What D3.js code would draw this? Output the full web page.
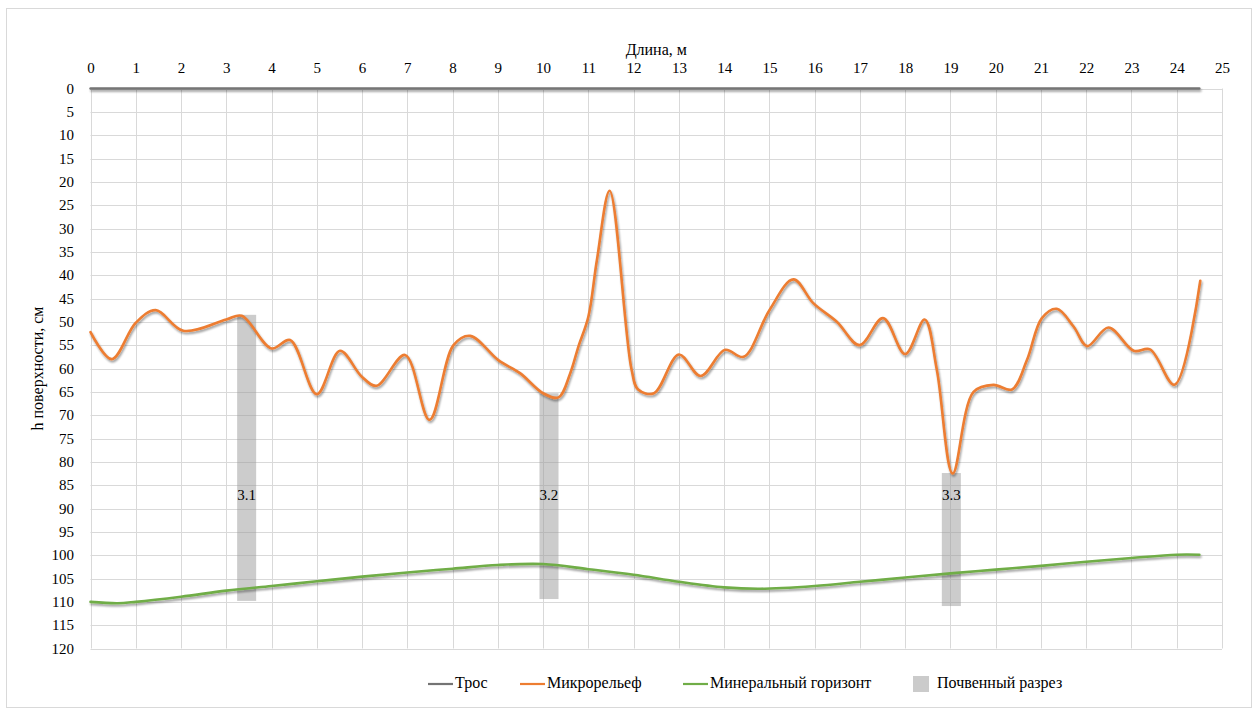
<!DOCTYPE html>
<html>
<head>
<meta charset="utf-8">
<script src="https://cdn.jsdelivr.net/npm/d3@7"></script>
<style>
  html, body { margin: 0; padding: 0; background: #fff; }
  svg { display: block; }
</style>
</head>
<body>
<svg id="chart" width="1259" height="715"></svg>
<script>
// Profile along the transect: length (m) vs depth below the cable (cm)
const xTicks = d3.range(0, 26, 1);
const yTicks = d3.range(0, 121, 5);

// Cable (reference line)
const cableX = [0, 24.5];
const cableH = [0, 0];

// Microrelief surface
const reliefX = [0, 0.47, 1.0, 1.44, 2.05, 3.0, 3.34, 4.0, 4.41, 5.0, 5.51, 5.99, 6.32, 6.95, 7.49,
  8.02, 8.39, 9.01, 9.49, 10.0, 10.34, 10.6, 10.78, 11.0, 11.19, 11.47, 11.95, 12.1, 12.45, 13.0,
  13.48, 14.02, 14.43, 15.0, 15.53, 15.97, 16.49, 16.99, 17.51, 18.0, 18.43, 18.70, 19.05, 19.51,
  19.95, 20.36, 20.69, 21.02, 21.35, 21.72, 22.02, 22.49, 23.05, 23.41, 23.95, 24.52];
const reliefH = [52.2, 58.0, 50.2, 47.5, 51.9, 49.5, 48.7, 55.7, 53.9, 65.5, 56.2, 61.7, 63.7, 57.1, 71.0,
  55.0, 53.0, 58.2, 61.0, 65.3, 66.2, 61.0, 55.3, 48.9, 36.7, 21.9, 60.0, 64.5, 65.3, 57.0,
  61.6, 56.0, 57.5, 47.5, 40.9, 46.0, 50.0, 55.0, 49.2, 56.9, 49.5, 60.3, 82.5, 65.0,
  63.5, 64.5, 58.2, 49.2, 47.2, 51.0, 55.2, 51.2, 56.2, 55.9, 63.5, 41.2];

// Mineral horizon boundary
const mineralX = [0, 0.6, 1, 2, 3, 4, 5, 6, 7, 8, 9, 10, 11, 12, 13, 14, 14.8, 16, 17, 18, 19, 20,
  21, 22, 23, 24, 24.5];
const mineralH = [110.0, 110.3, 110.0, 108.9, 107.6, 106.6, 105.6, 104.6, 103.7, 102.9, 102.1, 101.9,
  103.0, 104.2, 105.7, 106.9, 107.2, 106.6, 105.7, 104.8, 103.9, 103.1, 102.3, 101.4, 100.6, 99.9, 99.9];

// Soil pits
const pitNames = ["3.1", "3.2", "3.3"];
const pitX = [3.45, 10.13, 19.02];
const pitTop = [48.5, 65.3, 82.4];
const pitBottom = [109.8, 109.4, 110.9];
const pitWidth = 0.42;
const pitLabelH = 87.5;

const FONT = "'Liberation Serif', Tinos, 'Times New Roman', Times, 'DejaVu Serif', serif";
const TICK_SIZE = 15;
const TEXT_SIZE = 16;

const W = 1259, H = 715;
const svg = d3.select("#chart").style("font-family", FONT);

const x = d3.scaleLinear().domain([0, 25]).range([90.5, 1222]);
const y = d3.scaleLinear().domain([0, 120]).range([88.5, 648.5]);

// Outer chart frame
svg.append("rect")
  .attr("x", 6.5).attr("y", 8.5).attr("width", 1245).attr("height", 699)
  .attr("fill", "#fff").attr("stroke", "#d9d9d9");

// Soft drop shadow under the lines (user-space region so flat lines still render)
const defs = svg.append("defs");
const shadow = defs.append("filter").attr("id", "shadow")
  .attr("filterUnits", "userSpaceOnUse")
  .attr("x", 0).attr("y", 0).attr("width", W).attr("height", H);
shadow.append("feGaussianBlur").attr("in", "SourceAlpha").attr("stdDeviation", 1.3).attr("result", "b");
shadow.append("feOffset").attr("in", "b").attr("dx", 1).attr("dy", 2).attr("result", "o");
shadow.append("feComponentTransfer").attr("in", "o").attr("result", "s")
  .append("feFuncA").attr("type", "linear").attr("slope", 0.4);
const merge = shadow.append("feMerge");
merge.append("feMergeNode").attr("in", "s");
merge.append("feMergeNode").attr("in", "SourceGraphic");

// Gridlines
const grid = svg.append("g").attr("stroke", "#d9d9d9").attr("stroke-width", 1);
grid.selectAll("line.v").data(xTicks).join("line")
  .attr("x1", d => Math.round(x(d)) + 0.5).attr("x2", d => Math.round(x(d)) + 0.5)
  .attr("y1", y(0)).attr("y2", y(120));
grid.selectAll("line.h").data(yTicks).join("line")
  .attr("y1", d => Math.round(y(d)) + 0.5).attr("y2", d => Math.round(y(d)) + 0.5)
  .attr("x1", x(0)).attr("x2", x(25));

// Axes (labels only)
const xAxis = svg.append("g").attr("transform", `translate(0,${y(0) - 15.5})`)
  .call(d3.axisTop(x).tickValues(xTicks).tickSize(0).tickPadding(0).tickFormat(d3.format("d")));
xAxis.select(".domain").remove();
xAxis.attr("font-family", FONT).attr("font-size", TICK_SIZE);
xAxis.selectAll("text").attr("fill", "#000");

const yAxis = svg.append("g").attr("transform", `translate(${x(0) - 16.5},0)`)
  .call(d3.axisLeft(y).tickValues(yTicks).tickSize(0).tickPadding(0).tickFormat(d3.format("d")));
yAxis.select(".domain").remove();
yAxis.attr("font-family", FONT).attr("font-size", TICK_SIZE);
yAxis.selectAll("text").attr("fill", "#000");

// Axis titles
svg.append("text").attr("x", (x(0) + x(25)) / 2).attr("y", 55)
  .attr("text-anchor", "middle").attr("font-size", TEXT_SIZE).attr("font-family", FONT).text("Длина, м");
svg.append("text")
  .attr("transform", `translate(39,${(y(0) + y(120)) / 2}) rotate(-90)`)
  .attr("text-anchor", "middle").attr("dominant-baseline", "middle")
  .attr("font-size", TEXT_SIZE).attr("font-family", FONT).text("h поверхности, см");

// Soil pits
const pits = pitNames.map((n, i) => ({ name: n, x: pitX[i], top: pitTop[i], bottom: pitBottom[i] }));
svg.append("g").selectAll("rect").data(pits).join("rect")
  .attr("x", d => x(d.x - pitWidth / 2))
  .attr("width", x(pitWidth) - x(0))
  .attr("y", d => y(d.top))
  .attr("height", d => y(d.bottom) - y(d.top))
  .attr("fill", "#9a9a9a").attr("fill-opacity", 0.5);

// Lines
const line = d3.line().x(d => x(d[0])).y(d => y(d[1])).curve(d3.curveCatmullRom.alpha(0.5));
const series = [
  { xs: cableX, hs: cableH, color: "#747474", w: 2.4 },
  { xs: reliefX, hs: reliefH, color: "#ED7D31", w: 2.6 },
  { xs: mineralX, hs: mineralH, color: "#70AD47", w: 2.6 }
];
svg.append("g").selectAll("path").data(series).join("path")
  .attr("d", s => line(s.xs.map((v, i) => [v, s.hs[i]])))
  .attr("fill", "none").attr("stroke", s => s.color).attr("stroke-width", s => s.w)
  .attr("stroke-linejoin", "round").attr("stroke-linecap", "round")
  .attr("filter", "url(#shadow)");

// Pit labels
svg.append("g").selectAll("text").data(pits).join("text")
  .attr("x", d => x(d.x)).attr("y", y(pitLabelH))
  .attr("text-anchor", "middle").attr("dominant-baseline", "middle")
  .attr("font-size", TICK_SIZE).attr("font-family", FONT).text(d => d.name);

// Legend
const legendItems = [
  { label: "Трос", color: "#747474", type: "line", x0: 428 },
  { label: "Микрорельеф", color: "#ED7D31", type: "line", x0: 520 },
  { label: "Минеральный горизонт", color: "#70AD47", type: "line", x0: 683 },
  { label: "Почвенный разрез", color: "#cbcbcb", type: "rect", x0: 913 }
];
const legY = 684;
const leg = svg.append("g").attr("font-family", FONT).attr("font-size", TEXT_SIZE);
legendItems.forEach(it => {
  if (it.type === "line") {
    leg.append("line").attr("x1", it.x0).attr("x2", it.x0 + 25)
      .attr("y1", legY).attr("y2", legY)
      .attr("stroke", it.color).attr("stroke-width", 2.2);
    leg.append("text").attr("x", it.x0 + 27).attr("y", legY)
      .attr("dominant-baseline", "middle").text(it.label);
  } else {
    leg.append("rect").attr("x", it.x0).attr("y", legY - 8).attr("width", 16).attr("height", 16)
      .attr("fill", it.color);
    leg.append("text").attr("x", it.x0 + 24).attr("y", legY)
      .attr("dominant-baseline", "middle").text(it.label);
  }
});
</script>
</body>
</html>
